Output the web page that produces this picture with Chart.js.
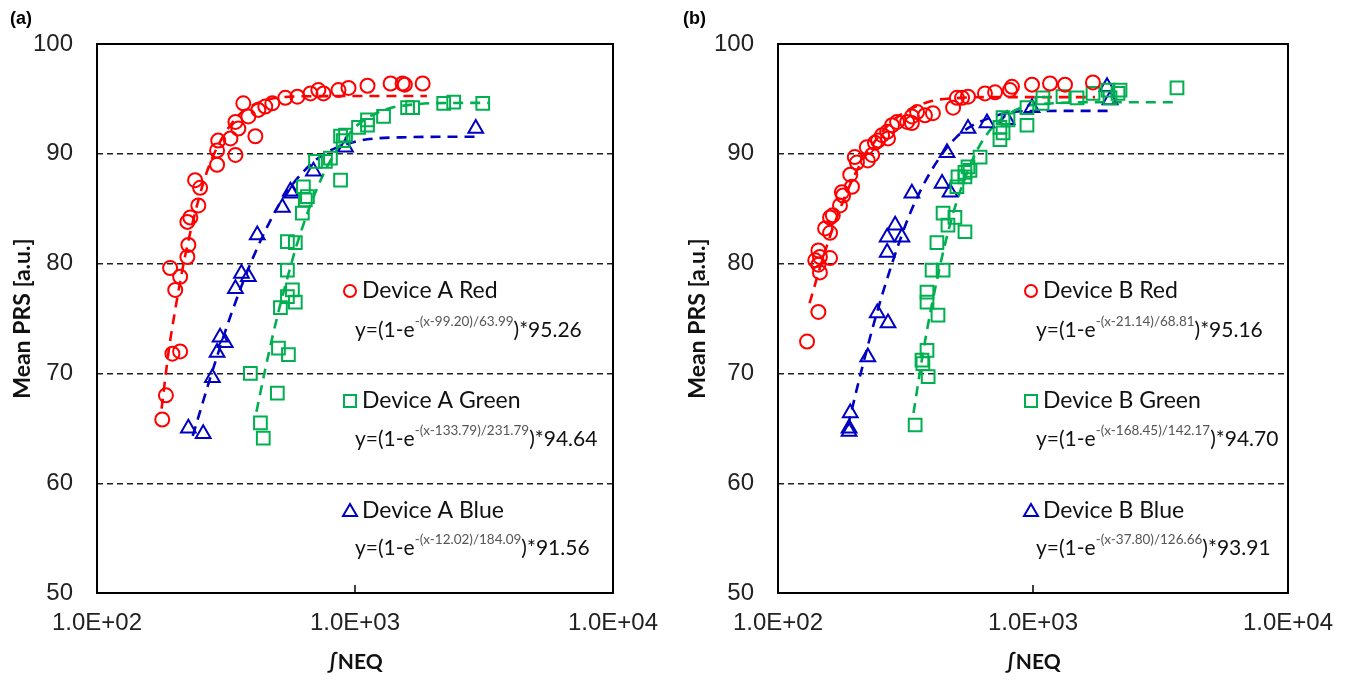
<!DOCTYPE html>
<html>
<head>
<meta charset="utf-8">
<script src="https://cdn.jsdelivr.net/npm/chart.js@4.4.1/dist/chart.umd.min.js"></script>
<style>
  body { margin: 0; background: #fff; }
  .panel { position: absolute; top: 0; }
</style>
</head>
<body>
<div class="panel" style="left:0px"><canvas id="chartA" width="675" height="683"></canvas></div>
<div class="panel" style="left:675px"><canvas id="chartB" width="676" height="683"></canvas></div>
<script>
// --- data ---
const xTickVals = [100, 1000, 10000];
const xTickLabels = ['1.0E+02', '1.0E+03', '1.0E+04'];
const yTickVals = [50, 60, 70, 80, 90, 100];

// panel (a)
const redA = [[179,65.8],[185,68.0],[196,71.8],[210,72.0],[201,77.6],[210,78.8],[192,79.6],[224,80.6],[226,81.7],
  [224,83.8],[230,84.2],[247,85.3],[251,86.9],[240,87.6],[292,89.0],[344,89.9],[292,90.3],[295,91.2],[329,91.4],
  [353,92.3],[344,92.9],[411,91.6],[386,93.4],[369,94.6],[422,94.0],[449,94.3],[478,94.6],[537,95.1],[598,95.2],
  [672,95.5],[721,95.8],[755,95.5],[863,95.8],[944,96.0],[1118,96.2],[1374,96.4],[1529,96.4],[1560,96.3],[1829,96.4]];
const greenA = [[393,70.0],[430,65.5],[441,64.1],[500,68.2],[505,72.3],[552,71.7],[514,76.0],[547,77.0],[572,77.6],
  [587,76.5],[547,79.4],[547,82.0],[587,81.9],[625,84.6],[642,85.8],[654,86.1],[631,87.0],[703,89.3],[768,89.3],
  [803,89.6],[879,87.6],[879,91.6],[919,91.7],[900,91.2],[1032,92.4],[1118,92.6],[1118,93.1],[1290,93.4],
  [1599,94.2],[1672,94.2],[2207,94.6],[2413,94.7],[3127,94.6]];
const blueA = [[226,65.0],[258,64.5],[280,69.6],[292,71.9],[300,73.3],[314,72.8],[344,77.7],[363,79.1],[386,78.8],
  [418,82.6],[523,85.1],[562,86.6],[572,86.4],[690,88.4],[919,90.6],[2938,92.3]];
const fitRedA = [[178,66.8],[190,72.2],[200,75.5],[220,80.8],[250,86.2],[270,88.7],[300,91.1],[350,93.4],
  [400,94.4],[500,95.1],[700,95.25],[1000,95.26],[1900,95.26]];
const fitGreenA = [[415,66.5],[450,70.5],[500,75.2],[550,78.9],[600,82.0],[700,86.4],[800,89.3],[1000,92.4],
  [1300,94.0],[1700,94.5],[2300,94.63],[3300,94.64]];
const fitBlueA = [[235,64.3],[280,70.2],[330,75.3],[400,80.4],[500,85.1],[600,87.8],[750,89.9],[1000,91.1],
  [1500,91.5],[2950,91.56]];

// panel (b)
const redB = [[130,72.9],[144,75.6],[146,79.2],[144,79.9],[140,80.3],[146,80.6],[160,80.5],[144,81.2],[153,83.2],
  [160,82.8],[160,84.2],[164,84.4],[175,85.3],[178,86.5],[180,86.2],[195,87.0],[192,88.1],[200,89.7],[204,89.2],
  [225,89.4],[234,89.9],[223,90.6],[240,91.0],[247,91.2],[256,91.7],[268,92.0],[270,91.4],[280,92.6],[293,92.9],
  [321,92.9],[335,93.4],[335,92.8],[351,93.8],[377,93.5],[405,93.7],[486,94.2],[503,95.1],[527,95.1],[556,95.2],
  [648,95.5],[710,95.6],[812,95.8],[827,96.1],[991,96.3],[1166,96.4],[1335,96.3],[1718,96.5]];
const greenB = [[345,65.3],[388,69.7],[367,71.2],[370,70.9],[384,72.1],[424,75.3],[384,76.5],[384,77.4],[402,79.4],
  [444,79.4],[420,81.9],[541,82.9],[464,83.5],[444,84.6],[494,84.2],[503,87.0],[508,87.9],[541,87.9],[541,88.3],
  [556,88.8],[566,88.5],[620,89.7],[742,91.3],[763,91.9],[742,92.4],[763,93.3],[798,93.1],[947,92.6],[947,94.2],
  [1085,94.6],[1094,95.1],[1311,95.2],[1488,95.1],[1719,95.5],[1969,95.8],[2005,95.1],[2154,95.5],[2194,95.8],
  [3670,96.0]];
const blueB = [[190,64.7],[192,66.4],[190,65.0],[225,71.5],[245,75.5],[270,74.6],[268,81.0],[268,82.4],[306,82.4],
  [288,83.5],[335,86.4],[440,87.3],[473,86.5],[460,90.1],[556,92.3],[660,92.8],[791,93.1],[991,94.2],[1951,96.1],
  [2005,94.9]];
const fitRedB = [[133,76.4],[150,80.5],[170,84.2],[200,88.1],[250,91.7],[300,93.5],[400,94.8],[500,95.07],
  [700,95.16],[1750,95.16]];
const fitGreenB = [[340,66.4],[370,71.8],[400,76.1],[450,81.6],[500,85.5],[600,90.2],[700,92.5],[900,94.2],
  [1200,94.6],[2000,94.7],[3700,94.7]];
const fitBlueB = [[188,65.2],[210,69.8],[240,74.9],[280,80.0],[330,84.6],[400,88.5],[500,91.5],[700,93.4],
  [1000,93.9],[2000,93.91]];

const legendA = [
  { name: 'Device A Red', eq: ['y=(1-e', '-(x-99.20)/63.99', ')*95.26'] },
  { name: 'Device A Green', eq: ['y=(1-e', '-(x-133.79)/231.79', ')*94.64'] },
  { name: 'Device A Blue', eq: ['y=(1-e', '-(x-12.02)/184.09', ')*91.56'] }
];
const legendB = [
  { name: 'Device B Red', eq: ['y=(1-e', '-(x-21.14)/68.81', ')*95.16'] },
  { name: 'Device B Green', eq: ['y=(1-e', '-(x-168.45)/142.17', ')*94.70'] },
  { name: 'Device B Blue', eq: ['y=(1-e', '-(x-37.80)/126.66', ')*93.91'] }
];

const RED = '#ff0000', GREEN = '#00b050', BLUE = '#0000c0';
const COLORS = [RED, GREEN, BLUE];
const STYLES = ['circle', 'rect', 'triangle'];
const RADII = [7, 9, 8.5];

function pts(arr) { return arr.map(p => ({ x: p[0], y: p[1] })); }

function markerSet(arr, i) {
  return {
    data: pts(arr), showLine: false, order: 1,
    pointStyle: STYLES[i], pointRadius: RADII[i], pointHoverRadius: RADII[i],
    borderColor: COLORS[i], backgroundColor: 'rgba(0,0,0,0)', pointBorderWidth: 2
  };
}
function fitSet(arr, i) {
  return {
    data: pts(arr), showLine: true, order: 2, pointRadius: 0,
    borderColor: COLORS[i], borderWidth: 2.6, borderDash: [10, 7],
    cubicInterpolationMode: 'monotone', fill: false
  };
}

function drawSymbol(ctx, style, x, y, color) {
  ctx.strokeStyle = color; ctx.lineWidth = 2; ctx.beginPath();
  if (style === 'circle') ctx.arc(x, y, 6, 0, Math.PI * 2);
  else if (style === 'rect') ctx.rect(x - 6, y - 6, 12, 12);
  else { ctx.moveTo(x, y - 7); ctx.lineTo(x + 7, y + 5); ctx.lineTo(x - 7, y + 5); ctx.closePath(); }
  ctx.stroke();
}

const annotate = {
  id: 'annotate',
  afterDraw(chart, args, opts) {
    const ctx = chart.ctx, a = chart.chartArea;
    ctx.save();
    ctx.strokeStyle = '#000'; ctx.lineWidth = 2; ctx.setLineDash([]);
    ctx.strokeRect(a.left, a.top, a.right - a.left, a.bottom - a.top);
    const px = chart.scales.x.getPixelForValue(1000);
    ctx.lineWidth = 1.5; ctx.beginPath(); ctx.moveTo(px, a.bottom); ctx.lineTo(px, a.bottom - 8); ctx.stroke();

    ctx.fillStyle = '#000'; ctx.textBaseline = 'middle'; ctx.textAlign = 'left';
    ctx.font = 'bold 18px "Liberation Sans", Arial';
    ctx.fillText(opts.panel, opts.panelX, 19);

    const symY = [291, 401, 511], eqY = [330, 439, 548];
    const sx = a.left + 253;
    opts.entries.forEach((e, i) => {
      drawSymbol(ctx, STYLES[i], sx, symY[i], COLORS[i]);
      ctx.fillStyle = '#111'; ctx.font = '23px Lato, "Open Sans", sans-serif';
      ctx.fillText(e.name, sx + 12, symY[i]);
      let x = sx + 5;
      ctx.font = '21px Lato, "Open Sans", sans-serif';
      ctx.fillText(e.eq[0], x, eqY[i]); x += ctx.measureText(e.eq[0]).width;
      ctx.font = '13.5px Lato, "Open Sans", sans-serif'; ctx.fillStyle = '#555';
      ctx.fillText(e.eq[1], x, eqY[i] - 8); x += ctx.measureText(e.eq[1]).width;
      ctx.font = '21px Lato, "Open Sans", sans-serif'; ctx.fillStyle = '#111';
      ctx.fillText(e.eq[2], x, eqY[i]);
    });
    ctx.restore();
  }
};

function makeChart(id, sets, fits, legend, panel, yWidth, rightPad) {
  const datasets = [];
  sets.forEach((s, i) => datasets.push(markerSet(s, i)));
  fits.forEach((f, i) => datasets.push(fitSet(f, i)));
  return new Chart(document.getElementById(id), {
    type: 'scatter',
    data: { datasets: datasets },
    plugins: [annotate],
    options: {
      responsive: false, animation: false,
      layout: { padding: { left: 0, right: rightPad, top: 44, bottom: 0 } },
      plugins: {
        legend: { display: false }, tooltip: { enabled: false },
        annotate: { panel: panel.label, panelX: panel.x, entries: legend }
      },
      scales: {
        x: {
          type: 'logarithmic', min: 100, max: 10000,
          afterBuildTicks: s => { s.ticks = xTickVals.map(v => ({ value: v })); },
          afterFit: s => { s.height = 90; },
          ticks: {
            autoSkip: false, maxRotation: 0, padding: 16, color: '#222',
            font: { family: '"Liberation Sans", Arial', size: 24 },
            callback: v => xTickLabels[xTickVals.indexOf(v)]
          },
          grid: { display: false, drawTicks: false },
          border: { display: false },
          title: { display: true, text: '∫NEQ', color: '#111', padding: { top: 0, bottom: 8 },
            font: { family: 'Lato, sans-serif', size: 21, weight: 'bold' } }
        },
        y: {
          min: 50, max: 100,
          afterBuildTicks: s => { s.ticks = yTickVals.map(v => ({ value: v })); },
          afterFit: s => { s.width = yWidth; },
          ticks: { padding: 24, color: '#222', font: { family: '"Liberation Sans", Arial', size: 24 } },
          grid: {
            drawTicks: false, lineWidth: 1.4,
            color: c => (c.tick && (c.tick.value === 50 || c.tick.value === 100)) ? 'rgba(0,0,0,0)' : '#222'
          },
          border: { display: false, dash: [6, 4] },
          title: { display: true, text: 'Mean PRS [a.u.]', color: '#111', padding: { top: 9 },
            font: { family: 'Lato, sans-serif', size: 23, weight: 'bold' } }
        }
      }
    }
  });
}

makeChart('chartA', [redA, greenA, blueA], [fitRedA, fitGreenA, fitBlueA], legendA, { label: '(a)', x: 10 }, 97, 62);
makeChart('chartB', [redB, greenB, blueB], [fitRedB, fitGreenB, fitBlueB], legendB, { label: '(b)', x: 8 }, 103, 63);
</script>
</body>
</html>
